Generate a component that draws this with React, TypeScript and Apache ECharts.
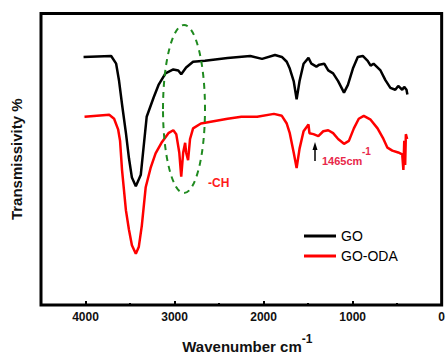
import React, { useEffect, useRef } from "react";
import * as echarts from "echarts";

const goWavenumber = [4022, 3712, 3656, 3623, 3590, 3546, 3512, 3479, 3435, 3379, 3346, 3313, 3235, 3180, 3102, 3014, 2958, 2925, 2870, 2792, 2659, 2404, 2150, 2017, 1872, 1795, 1740, 1706, 1662, 1629, 1596, 1551, 1496, 1463, 1407, 1374, 1319, 1274, 1219, 1163, 1097, 1053, 997, 942, 886, 831, 798, 765, 687, 632, 576, 521, 488, 443, 421, 395, 385];
const goTransmission = [257, 258, 250, 232, 208, 178, 152, 132, 123, 135, 165, 195, 215, 228, 240, 244, 243, 239, 246, 252, 253, 256, 258, 255, 259, 257, 252, 245, 232, 213, 232, 250, 256, 250, 247, 249, 250, 243, 240, 232, 220, 228, 245, 257, 258, 253, 248, 250, 243, 233, 225, 223, 227, 223, 226, 223, 218];

const odaWavenumber = [4011, 3734, 3679, 3634, 3612, 3590, 3546, 3512, 3479, 3435, 3402, 3368, 3324, 3269, 3213, 3147, 3069, 3014, 2981, 2947, 2925, 2903, 2881, 2870, 2848, 2826, 2792, 2704, 2404, 2250, 2072, 1884, 1795, 1740, 1706, 1662, 1629, 1596, 1551, 1496, 1485, 1440, 1385, 1330, 1274, 1219, 1163, 1097, 1042, 986, 931, 875, 798, 720, 654, 609, 554, 488, 443, 430, 420, 410, 402, 388];
const odaTransmission = [195, 197, 193, 182, 170, 140, 98, 78, 62, 53, 60, 82, 122, 142, 157, 168, 178, 181, 177, 158, 133, 158, 168, 158, 150, 172, 183, 188, 193, 195, 195, 198, 196, 188, 178, 158, 142, 162, 180, 187, 178, 177, 175, 180, 181, 178, 172, 167, 170, 183, 193, 196, 192, 183, 172, 163, 160, 158, 156, 140, 170, 145, 177, 172];

const seriesNames = ["GO", "GO-ODA"];
const majorTickValues = [4000, 3000, 2000, 1000, 0];
const minorTickValues = [3500, 2500, 1500, 500];

const FONT = "'Liberation Sans', Arial, sans-serif";

export default function App() {
  const ref = useRef<HTMLDivElement>(null);
  useEffect(() => {
    const chart = echarts.init(ref.current!, null, { renderer: "svg" });
    const goData = goWavenumber.map((w, i) => [w, goTransmission[i]]);
    const odaData = odaWavenumber.map((w, i) => [w, odaTransmission[i]]);
    chart.setOption({
      animation: false,
      backgroundColor: "#fff",
      textStyle: { fontFamily: FONT },
      grid: {
        left: 41,
        right: 1,
        top: 13.5,
        bottom: 49,
        show: true,
        borderColor: "#000",
        borderWidth: 3,
        backgroundColor: "transparent",
      },
      legend: {
        orient: "vertical",
        left: 304,
        top: 228,
        padding: 0,
        itemGap: 4,
        itemWidth: 32,
        itemHeight: 3,
        icon: "rect",
        data: seriesNames,
        textStyle: { fontFamily: FONT, fontSize: 14, color: "#000", lineHeight: 16 },
      },
      xAxis: [
        {
          type: "value",
          min: 0,
          max: 4500,
          interval: 1000,
          inverse: true,
          position: "bottom",
          splitLine: { show: false },
          axisLine: { show: false },
          axisTick: {
            show: true,
            inside: true,
            length: 4,
            customValues: majorTickValues,
            lineStyle: { color: "#000", width: 2 },
          },
          axisLabel: {
            customValues: majorTickValues,
            showMinLabel: true,
            showMaxLabel: true,
            hideOverlap: false,
            formatter: (v: number) => String(v),
            margin: 6,
            fontFamily: FONT,
            fontSize: 12,
            fontWeight: "bold",
            color: "#111",
          },
          name: "Wavenumber cm{sup|-1}",
          nameLocation: "middle",
          nameGap: 28,
          nameTextStyle: {
            fontFamily: FONT,
            fontSize: 15,
            fontWeight: "bold",
            color: "#111",
            lineHeight: 26,
            padding: [0, 0, 0, 12],
            rich: {
              sup: { fontFamily: FONT, fontSize: 12, fontWeight: "bold", color: "#111", verticalAlign: "top" },
            },
          },
        },
        {
          type: "value",
          min: 0,
          max: 4500,
          inverse: true,
          position: "bottom",
          splitLine: { show: false },
          axisLine: { show: false },
          axisLabel: { show: false },
          axisTick: {
            show: true,
            inside: true,
            length: 2,
            customValues: minorTickValues,
            lineStyle: { color: "#000", width: 2 },
          },
        },
      ],
      yAxis: {
        type: "value",
        min: 0,
        max: 302,
        axisLine: { show: false },
        axisTick: { show: false },
        axisLabel: { show: false },
        splitLine: { show: false },
        name: "Transmissivity %",
        nameLocation: "middle",
        nameRotate: 90,
        nameGap: 17,
        nameTextStyle: { fontFamily: FONT, fontSize: 15, fontWeight: "bold", color: "#111" },
      },
      series: [
        {
          name: seriesNames[0],
          type: "line",
          xAxisIndex: 0,
          data: goData,
          showSymbol: false,
          symbol: "none",
          lineStyle: { color: "#000", width: 2.5 },
          itemStyle: { color: "#000" },
        },
        {
          name: seriesNames[1],
          type: "line",
          xAxisIndex: 0,
          data: odaData,
          showSymbol: false,
          symbol: "none",
          lineStyle: { color: "#ff0000", width: 2.5 },
          itemStyle: { color: "#ff0000" },
        },
      ],
      graphic: [
        {
          type: "ellipse",
          shape: { cx: 184, cy: 109, rx: 21, ry: 84 },
          style: { fill: "none", stroke: "#1f8a1f", lineWidth: 2, lineDash: [6, 5] },
          z: 10,
        },
        {
          type: "text",
          left: 208,
          top: 177,
          style: { text: "-CH", fill: "#ff1a1a", font: `bold 12px ${FONT}` },
          z: 10,
        },
        {
          type: "line",
          shape: { x1: 315, y1: 161, x2: 315, y2: 148 },
          style: { stroke: "#000", lineWidth: 1.5 },
          z: 10,
        },
        {
          type: "polygon",
          shape: { points: [[315, 142], [312.5, 150], [317.5, 150]] },
          style: { fill: "#000" },
          z: 10,
        },
        {
          type: "text",
          left: 322,
          top: 155,
          style: { text: "1465cm", fill: "#e8284a", font: `bold 11px ${FONT}` },
          z: 10,
        },
        {
          type: "text",
          left: 362,
          top: 146,
          style: { text: "-1", fill: "#e8284a", font: `bold 10px ${FONT}` },
          z: 10,
        },
      ],
    });
    return () => chart.dispose();
  }, []);
  return (
    <div
      ref={ref}
      style={{ position: "absolute", left: 0, top: 0, width: 448, height: 364, background: "#fff" }}
    />
  );
}
